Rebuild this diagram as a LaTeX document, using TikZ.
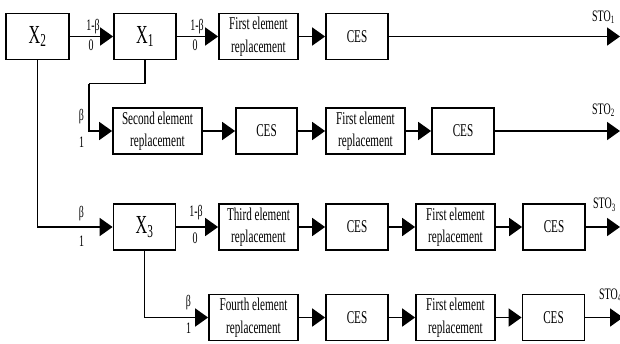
\documentclass[tikz,border=0pt]{standalone}
\usepackage{fontspec}
\setmainfont[FakeStretch=0.62]{Liberation Serif}
\usetikzlibrary{arrows.meta}
\tikzset{
  blk/.style={draw, line width=1.8pt, minimum height=46pt, inner sep=0pt, align=center,
              font=\fontsize{18}{22.5}\selectfont},
  xbox/.style={blk, font=\fontsize{26}{28}\selectfont},
  arr/.style={line width=1.9pt, -{Triangle[length=13pt,width=18pt]}},
  conn/.style={line width=1.9pt},
  lab/.style={font=\fontsize{16}{18}\selectfont, inner sep=0pt},
  sto/.style={font=\fontsize{16}{18}\selectfont, inner sep=0pt, anchor=west}
}
\begin{document}
\begin{tikzpicture}[x=1pt,y=-1pt]
\useasboundingbox (0,0) rectangle (620,343);
% row 1
\node[xbox, minimum width=63pt] (X2) at (37.5,36.5) {X\textsubscript{2}};
\node[xbox, minimum width=62pt] (X1) at (145,36.5) {X\textsubscript{1}};
\node[blk, minimum width=79pt] (F1) at (258.5,36.5) {First element\\replacement};
\node[blk, minimum width=62pt] (C1) at (357,36.5) {CES};
\coordinate (E1) at (620,36.5);
% row 2
\node[blk, minimum width=89pt] (S2) at (157.5,131) {Second element\\replacement};
\node[blk, minimum width=61pt] (C2a) at (266.5,131) {CES};
\node[blk, minimum width=79pt] (F2) at (365.5,131) {First element\\replacement};
\node[blk, minimum width=62pt] (C2b) at (463,131) {CES};
\coordinate (E2) at (620,131);
\coordinate (K1) at (89,83.5);
% row 3
\node[xbox, minimum width=62pt] (X3) at (144.5,227) {X\textsubscript{3}};
\node[blk, minimum width=79pt] (T3) at (258.5,227) {Third element\\replacement};
\node[blk, minimum width=62pt] (C3a) at (357,227) {CES};
\node[blk, minimum width=79pt] (F3) at (455.5,227) {First element\\replacement};
\node[blk, minimum width=62pt] (C3b) at (554,227) {CES};
\coordinate (E3) at (620,227);
% row 4
\node[blk, minimum width=89pt] (Fo4) at (253.5,317.5) {Fourth element\\replacement};
\node[blk, minimum width=62pt] (C4a) at (357,317.5) {CES};
\node[blk, minimum width=79pt] (F4) at (455.5,317.5) {First element\\replacement};
\node[blk, minimum width=62pt] (C4b) at (553.5,317.5) {CES};
\coordinate (E4) at (623,317.5);
% connectors
\draw[arr] (X2) -- (X1);
\draw[arr] (X1) -- (F1);
\draw[arr] (F1) -- (C1);
\draw[arr] (C1) -- (E1);
\draw[conn] (X1.south) |- (K1);
\draw[arr] (K1) |- (S2.west);
\draw[arr] (S2) -- (C2a);
\draw[arr] (C2a) -- (F2);
\draw[arr] (F2) -- (C2b);
\draw[arr] (C2b) -- (E2);
\draw[arr] (X2.south) |- (X3.west);
\draw[arr] (X3) -- (T3);
\draw[arr] (T3) -- (C3a);
\draw[arr] (C3a) -- (F3);
\draw[arr] (F3) -- (C3b);
\draw[arr] (C3b) -- (E3);
\draw[arr] (X3.south) |- (Fo4.west);
\draw[arr] (Fo4) -- (C4a);
\draw[arr] (C4a) -- (F4);
\draw[arr] (F4) -- (C4b);
\draw[arr] (C4b) -- (E4);
% labels
\node[lab] (a1) at (93,26.5) {1-β};
\node[lab] (a0) at (91,45.5) {0};
\node[lab] (b1) at (197,26.5) {1-β};
\node[lab] (b0) at (195,45.5) {0};
\node[lab] (c1) at (81.5,117) {β};
\node[lab] (c0) at (81.5,142) {1};
\node[lab] (d1) at (81.5,214) {β};
\node[lab] (d0) at (81.5,241) {1};
\node[lab] (e1) at (196,213) {1-β};
\node[lab] (e0) at (195,238) {0};
\node[lab] (f1) at (188.5,303) {β};
\node[lab] (f0) at (188.5,328) {1};
\node[sto] (s1) at (592,17) {STO\textsubscript{1}};
\node[sto] (s2) at (592,110) {STO\textsubscript{2}};
\node[sto] (s3) at (593,205) {STO\textsubscript{3}};
\node[sto] (s4) at (599,295) {STO\textsubscript{4}};
\end{tikzpicture}
\end{document}
